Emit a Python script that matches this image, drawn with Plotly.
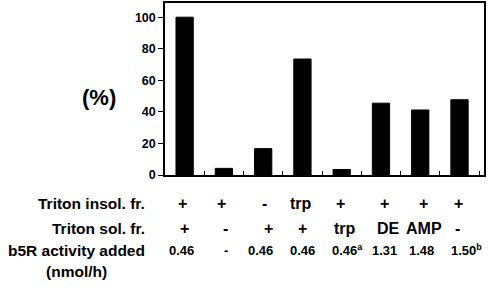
import plotly.graph_objects as go

# ---- data ----
categories = ["1", "2", "3", "4", "5", "6", "7", "8"]
percent = [100, 4.2, 16.7, 73.5, 3.5, 45.5, 41.2, 47.7]
y_ticks = [0, 20, 40, 60, 80, 100]

row_labels = ["Triton insol. fr.", "Triton sol. fr.", "b5R activity added"]
insol_fr = ["+", "+", "-", "trp", "+", "+", "+", "+"]
sol_fr = ["+", "-", "+", "+", "trp", "DE", "AMP", "-"]
b5r_added = ["0.46", "-", "0.46", "0.46", "0.46<sup>a</sup>", "1.31", "1.48", "1.50<sup>b</sup>"]
unit_label = "(nmol/h)"
y_label = "(%)"

# ---- layout helpers ----
FONT = "Liberation Sans, Arial, sans-serif"
row_yshift = [-28, -53, -75]
row_font = [16, 16, 13]
col_shift = [
    [-2, -2, 1, -1, -1, 4, 3, -1],
    [0, 2, 5, 0, 3, 8, 4, -2],
    [-3, 2, -3, 0, 6, 4, 1, 7],
]

fig = go.Figure(
    go.Bar(
        x=categories,
        y=percent,
        marker=dict(color="black", line=dict(color="black", width=1)),
    )
)

annotations = []
for r, (label, vals) in enumerate(zip(row_labels, [insol_fr, sol_fr, b5r_added])):
    annotations.append(dict(
        text=label, xref="paper", yref="paper", x=0, y=0,
        xanchor="right", yanchor="middle", xshift=-18, yshift=row_yshift[r],
        showarrow=False, font=dict(family=FONT, size=15.5, color="black", weight="bold"),
    ))
    for i, v in enumerate(vals):
        annotations.append(dict(
            text=v, xref="x", yref="paper", x=i, y=0,
            xanchor="center", yanchor="middle", xshift=col_shift[r][i], yshift=row_yshift[r],
            showarrow=False, font=dict(family=FONT, size=row_font[r], color="black", weight="bold"),
        ))
annotations.append(dict(
    text=unit_label, xref="paper", yref="paper", x=0, y=0,
    xanchor="center", yanchor="middle", xshift=-165 + 76, yshift=-96,
    showarrow=False, font=dict(family=FONT, size=15.5, color="black", weight="bold"),
))
annotations.append(dict(
    text=y_label, xref="paper", yref="paper", x=0, y=0,
    xanchor="center", yanchor="middle", xshift=-165 + 99, yshift=78,
    showarrow=False, font=dict(family=FONT, size=22, color="black", weight="bold"),
))

fig.update_layout(
    width=495, height=292,
    margin=dict(l=165, r=11, t=1, b=117),
    paper_bgcolor="white", plot_bgcolor="white",
    showlegend=False,
    bargap=0.56,
    font=dict(family=FONT, color="black"),
    annotations=annotations,
    xaxis=dict(
        type="category", showticklabels=False,
        ticks="inside", tickson="boundaries", ticklen=4, tickcolor="black",
        showline=True, linecolor="black", linewidth=1.5, mirror=True,
        showgrid=False, zeroline=False,
    ),
    yaxis=dict(
        range=[0, 109], tickvals=y_ticks,
        ticks="outside", ticklen=5, tickcolor="black",
        tickfont=dict(family=FONT, size=12.5, color="black", weight="bold"),
        showline=True, linecolor="black", linewidth=1.5, mirror=True,
        showgrid=False, zeroline=False,
    ),
)

fig.write_html(
    "out.html",
    config={"displayModeBar": False},
    post_script="document.body.style.margin='0px';",
)
